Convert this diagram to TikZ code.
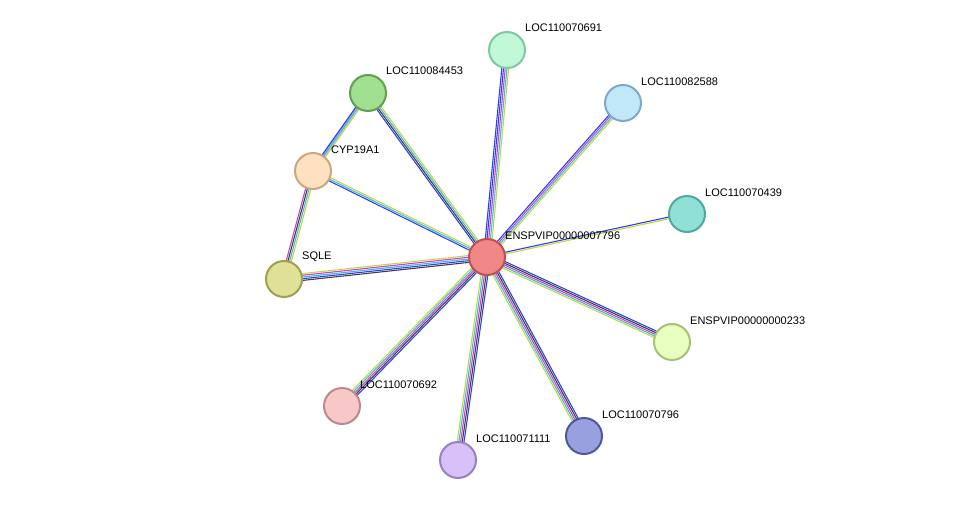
\documentclass[tikz,border=0pt]{standalone}
\usepackage{fontspec}
\setmainfont{Liberation Sans}
\usetikzlibrary{calc}
\definecolor{cyg}{HTML}{C0D840}
\definecolor{cbl}{HTML}{3040E8}
\definecolor{cmg}{HTML}{D040C8}
\definecolor{ccy}{HTML}{40B8E0}
\definecolor{cbk}{HTML}{404040}
\definecolor{clv}{HTML}{C8C0F0}
\newcommand{\myedge}[3]{%
  \foreach \c [count=\i] in {#3} {
    \pgfmathsetmacro{\off}{(\i-1)*1.6-#2}
    \draw[\c, line width=1.1pt] ($(#1)$);
  }}
\newcommand{\medge}[3]{% a, b, colors
  \def\mylist{#3}%
  \pgfmathsetmacro{\n}{0}%
  \foreach \c [count=\i] in {#3} {\xdef\cnt{\i}}%
  \foreach \c [count=\i] in {#3} {
    \pgfmathsetmacro{\off}{(\i-1-(\cnt-1)/2)*1.7}
    \draw[\c, line width=1.1pt] ($(#1.center)!\off pt!90:(#2.center)$) -- ($(#2.center)!\off pt!-90:(#1.center)$);
  }}
\tikzset{
  prot/.style={circle, minimum size=36pt, line width=2pt, inner sep=0pt},
  lab/.style={anchor=west, font=\fontsize{11}{13}\selectfont, inner sep=0pt}
}
\begin{document}
\begin{tikzpicture}[x=1pt,y=-1pt]
\useasboundingbox (0,0) rectangle (975,506);
\path
 (487,257) coordinate (c)
 (507,50) coordinate (a691)
 (623,103) coordinate (a588)
 (368,93) coordinate (a453)
 (313,171) coordinate (cyp)
 (687,214) coordinate (a439)
 (284,279) coordinate (sqle)
 (672,342) coordinate (a233)
 (342,406) coordinate (a692)
 (584,436) coordinate (a796)
 (458,460) coordinate (a111);
\draw[clv, line width=5pt] (cyp) -- (a453);
\medge{cyp}{a453}{cyg,ccy,cbl}
\medge{cyp}{sqle}{cmg,cbk,ccy,cyg}
\medge{c}{a691}{cyg,ccy,cmg,cbl,cbl}
\medge{c}{a588}{cyg,ccy,cmg,cbl}
\medge{c}{a453}{cyg,ccy,cbk,cbl}
\medge{c}{cyp}{cyg,ccy,cbl}
\medge{c}{a439}{cyg,cbl}
\medge{c}{sqle}{cyg,cmg,ccy,cbl,cbk}
\medge{c}{a233}{cyg,ccy,cmg,cbk,cbl}
\medge{c}{a692}{cyg,ccy,cmg,cbk,cbl}
\medge{c}{a796}{cyg,ccy,cmg,cbk,cbl}
\medge{c}{a111}{cyg,ccy,cmg,cbk,cbl}
\node[prot, fill={rgb,255:red,240;green,136;blue,136}, draw={rgb,255:red,192;green,80;blue,80}] (n0) at (c) {};
\node[prot, fill={rgb,255:red,192;green,248;blue,216}, draw={rgb,255:red,128;green,200;blue,160}] (n1) at (a691) {};
\node[prot, fill={rgb,255:red,192;green,232;blue,248}, draw={rgb,255:red,128;green,168;blue,200}] (n2) at (a588) {};
\node[prot, fill={rgb,255:red,160;green,224;blue,144}, draw={rgb,255:red,96;green,160;blue,80}] (n3) at (a453) {};
\node[prot, fill={rgb,255:red,255;green,224;blue,192}, draw={rgb,255:red,200;green,168;blue,128}] (n4) at (cyp) {};
\node[prot, fill={rgb,255:red,144;green,224;blue,216}, draw={rgb,255:red,80;green,168;blue,160}] (n5) at (a439) {};
\node[prot, fill={rgb,255:red,224;green,224;blue,152}, draw={rgb,255:red,160;green,160;blue,80}] (n6) at (sqle) {};
\node[prot, fill={rgb,255:red,232;green,255;blue,192}, draw={rgb,255:red,168;green,192;blue,120}] (n7) at (a233) {};
\node[prot, fill={rgb,255:red,248;green,200;blue,200}, draw={rgb,255:red,192;green,136;blue,136}] (n8) at (a692) {};
\node[prot, fill={rgb,255:red,152;green,160;blue,224}, draw={rgb,255:red,80;green,88;blue,152}] (n9) at (a796) {};
\node[prot, fill={rgb,255:red,216;green,192;blue,248}, draw={rgb,255:red,152;green,128;blue,200}] (n10) at (a111) {};
\node[lab] (l0) at (505,236) {ENSPVIP00000007796};
\node[lab] (l1) at (525,28) {LOC110070691};
\node[lab] (l2) at (641,82) {LOC110082588};
\node[lab] (l3) at (386,71) {LOC110084453};
\node[lab] (l4) at (331,150) {CYP19A1};
\node[lab] (l5) at (705,193) {LOC110070439};
\node[lab] (l6) at (302,257) {SQLE};
\node[lab] (l7) at (690,321) {ENSPVIP00000000233};
\node[lab] (l8) at (360,385) {LOC110070692};
\node[lab] (l9) at (602,415) {LOC110070796};
\node[lab] (l10) at (476,439) {LOC110071111};
\end{tikzpicture}
\end{document}
